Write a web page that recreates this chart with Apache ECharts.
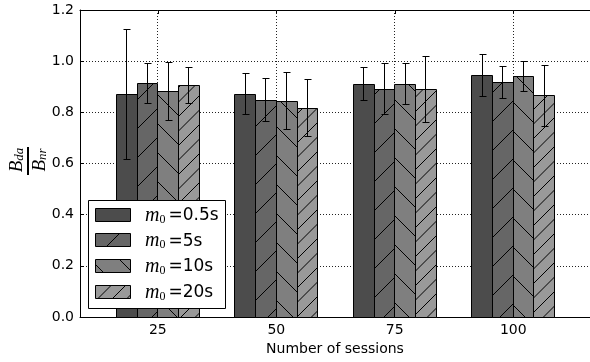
<!DOCTYPE html>
<html><head><meta charset="utf-8">
<script src="https://cdn.jsdelivr.net/npm/echarts@6/dist/echarts.min.js"></script>
<style>html,body{margin:0;padding:0;background:#fff}#c{width:590px;height:362px}</style>
</head><body><div id="c"></div>
<script>
// Number of sessions on the x axis
const sessions = [25, 50, 75, 100];
// Series names (initial memory m0)
const seriesNames = ['0.5s', '5s', '10s', '20s'];
// Mean B_da / B_nr per session count
const ratio05 = [0.869, 0.871, 0.910, 0.943];
const ratio5  = [0.913, 0.847, 0.890, 0.918];
const ratio10 = [0.882, 0.843, 0.910, 0.940];
const ratio20 = [0.906, 0.816, 0.890, 0.864];
// Half-length of the error bars
const err05 = [0.254, 0.080, 0.065, 0.082];
const err5  = [0.078, 0.084, 0.100, 0.062];
const err10 = [0.112, 0.111, 0.081, 0.058];
const err20 = [0.070, 0.112, 0.129, 0.119];
// Axis ticks
const yTicks = [0, 0.2, 0.4, 0.6, 0.8, 1.0, 1.2];
const xTickLabels = ['25', '50', '75', '100'];

const values = [ratio05, ratio5, ratio10, ratio20];
const errors = [err05, err5, err10, err20];

// Styling
const FILLS = ['#4c4c4c', '#666666', '#7f7f7f', '#999999'];
const HATCH = [null, {dir: 1, step: 29}, {dir: -1, step: 29}, {dir: 1, step: 14.5}];
const BAR_W = 4.375;          // bar width in x-axis units
const X_MIN = 8.57, X_MAX = 116.2;
const CAP = 3;
const LEGEND_Z = 100;

const snap = v => Math.round(v - 0.5) + 0.5;

// Hatch segments in screen space, clipped to a rectangle
function hatchSegments(x0, y0, x1, y1, h) {
  const segs = [];
  if (!h) return segs;
  const s = h.step, ph = 5;
  if (h.dir > 0) {            // '/' : x + y = c
    const cMin = x0 + y0, cMax = x1 + y1;
    for (let c = Math.ceil((cMin - ph) / s) * s + ph; c <= cMax; c += s) {
      const xa = Math.max(x0, c - y1), xb = Math.min(x1, c - y0);
      if (xb > xa) segs.push([xa, c - xa, xb, c - xb]);
    }
  } else {                    // '\' : x - y = c
    const cMin = x0 - y1, cMax = x1 - y0;
    for (let c = Math.ceil((cMin - ph) / s) * s + ph; c <= cMax; c += s) {
      const xa = Math.max(x0, c + y0), xb = Math.min(x1, c + y1);
      if (xb > xa) segs.push([xa, xa - c, xb, xb - c]);
    }
  }
  return segs;
}

function hatchElements(x0, y0, x1, y1, h, z) {
  return hatchSegments(x0, y0, x1, y1, h).map(sg => {
    const el = {
      type: 'line', shape: {x1: sg[0], y1: sg[1], x2: sg[2], y2: sg[3]},
      style: {stroke: '#000', lineWidth: 1}
    };
    if (z !== undefined) el.z = z;
    return el;
  });
}

function barRenderer(k) {
  return function (params, api) {
    const xc = api.value(0) + (k - 1.5) * BAR_W;
    const v = api.value(1), e = api.value(2);
    const pTop = api.coord([xc - BAR_W / 2, v]);
    const pBot = api.coord([xc + BAR_W / 2, 0]);
    const x0 = snap(pTop[0]), x1 = snap(pBot[0]);
    const y0 = snap(pTop[1]), y1 = snap(pBot[1]);
    const children = [{
      type: 'rect', shape: {x: x0, y: y0, width: x1 - x0, height: y1 - y0},
      style: {fill: FILLS[k]}
    }];
    children.push(...hatchElements(x0, y0, x1, y1, HATCH[k]));
    children.push({
      type: 'rect', shape: {x: x0, y: y0, width: x1 - x0, height: y1 - y0},
      style: {fill: 'none', stroke: '#000', lineWidth: 1}
    });
    const eTop = api.coord([xc, v + e]), eBot = api.coord([xc, v - e]);
    const cx = snap(eTop[0]), ty = snap(eTop[1]), by = snap(eBot[1]);
    children.push(
      {type: 'line', shape: {x1: cx, y1: ty, x2: cx, y2: by}, style: {stroke: '#000', lineWidth: 1}},
      {type: 'line', shape: {x1: cx - CAP, y1: ty, x2: cx + CAP + 1, y2: ty}, style: {stroke: '#000', lineWidth: 1}},
      {type: 'line', shape: {x1: cx - CAP, y1: by, x2: cx + CAP + 1, y2: by}, style: {stroke: '#000', lineWidth: 1}}
    );
    return {type: 'group', children};
  };
}

const series = values.map((vals, k) => ({
  type: 'custom',
  name: seriesNames[k],
  z: 3,
  renderItem: barRenderer(k),
  encode: {x: 0, y: 1},
  data: sessions.map((s, i) => [s, vals[i], errors[k][i]])
}));

// Vertical dotted grid lines at the x ticks
series.unshift({
  type: 'custom',
  z: 1,
  silent: true,
  renderItem: function (params, api) {
    const a = api.coord([api.value(0), yTicks[yTicks.length - 1]]);
    const b = api.coord([api.value(0), yTicks[0]]);
    const x = snap(a[0]);
    return {type: 'line', shape: {x1: x, y1: a[1], x2: x, y2: b[1]},
      style: {stroke: '#222', lineWidth: 1, lineDash: [1, 2]}};
  },
  encode: {x: 0},
  data: sessions.map(s => [s])
});

// Legend drawn as graphics (hatched patches + math-style labels)
const LEG = {x: 88.5, y: 200.5, w: 137, h: 108, rows: [214.5, 240.2, 265.9, 291.6]};
const legendChildren = [{
  type: 'rect', z: LEGEND_Z, shape: {x: LEG.x, y: LEG.y, width: LEG.w, height: LEG.h},
  style: {fill: '#fff', stroke: '#000', lineWidth: 1}
}];
const mathRich = {
  m: {fontFamily: 'Liberation Serif', fontStyle: 'italic', fontSize: 20, lineHeight: 20, color: '#000'},
  sub: {fontFamily: 'Liberation Serif', fontSize: 12, lineHeight: 12, verticalAlign: 'bottom', color: '#000', padding: [0, 3, 0, 0]},
  t: {fontFamily: 'DejaVu Sans', fontSize: 17, lineHeight: 20, color: '#000'}
};
seriesNames.forEach((name, k) => {
  const cy = LEG.rows[k];
  const px0 = 95.5, px1 = 130.5, py0 = snap(cy - 6.5), py1 = py0 + 13;
  legendChildren.push({type: 'rect', z: LEGEND_Z + 1, shape: {x: px0, y: py0, width: px1 - px0, height: py1 - py0}, style: {fill: FILLS[k]}});
  legendChildren.push(...hatchElements(px0, py0, px1, py1, HATCH[k], LEGEND_Z + 2));
  legendChildren.push({type: 'rect', z: LEGEND_Z + 3, shape: {x: px0, y: py0, width: px1 - px0, height: py1 - py0}, style: {fill: 'none', stroke: '#000', lineWidth: 1}});
  legendChildren.push({
    type: 'text', z: LEGEND_Z + 3, x: 145, y: cy + 1,
    style: {text: '{m|m}{sub|0}{t|=' + name + '}', rich: mathRich, align: 'left', verticalAlign: 'middle'}
  });
});

const fracRich = {
  B: {fontFamily: 'Liberation Serif', fontStyle: 'italic', fontSize: 19, lineHeight: 19, color: '#000'},
  s: {fontFamily: 'Liberation Serif', fontStyle: 'italic', fontSize: 13, lineHeight: 13, verticalAlign: 'bottom', color: '#000'}
};

const option = {
  animation: false,
  backgroundColor: '#fff',
  grid: {left: 80, top: 10, right: -3, bottom: 45},
  xAxis: [{
    type: 'value', min: X_MIN, max: X_MAX, position: 'bottom',
    name: 'Number of sessions', nameLocation: 'middle', nameGap: 24,
    nameTextStyle: {fontFamily: 'DejaVu Sans', fontSize: 14, color: '#000'},
    axisLine: {show: true, onZero: false, lineStyle: {color: '#000', width: 1}},
    axisTick: {show: true, inside: true, length: 4, customValues: sessions, lineStyle: {color: '#000'}},
    axisLabel: {show: true, customValues: sessions, margin: 6,
      formatter: v => xTickLabels[sessions.indexOf(v)],
      fontFamily: 'DejaVu Sans', fontSize: 14, color: '#000'},
    splitLine: {show: false}
  }, {
    type: 'value', min: X_MIN, max: X_MAX, position: 'top',
    axisLine: {show: true, onZero: false, lineStyle: {color: '#000', width: 1}},
    axisTick: {show: true, inside: true, length: 4, customValues: sessions, lineStyle: {color: '#000'}},
    axisLabel: {show: false},
    splitLine: {show: false}
  }],
  yAxis: {
    type: 'value', min: yTicks[0], max: yTicks[yTicks.length - 1], interval: 0.2,
    axisLine: {show: true, lineStyle: {color: '#000', width: 1}},
    axisTick: {show: true, inside: true, length: 4, lineStyle: {color: '#000'}},
    axisLabel: {margin: 6, formatter: v => v.toFixed(1), fontFamily: 'DejaVu Sans', fontSize: 14, color: '#000'},
    splitLine: {show: true, lineStyle: {color: '#222', width: 1, type: [1, 2]}}
  },
  graphic: [
    {type: 'group', children: legendChildren},
    {
      type: 'group', x: 28, y: 161, rotation: Math.PI / 2, children: [
        {type: 'rect', shape: {x: -14, y: -1, width: 28, height: 2}, style: {fill: '#000'}},
        {type: 'text', x: 1, y: -2, style: {text: '{B|B}{s|da}', rich: fracRich, align: 'center', verticalAlign: 'bottom'}},
        {type: 'text', x: 1, y: 2, style: {text: '{B|B}{s|nr}', rich: fracRich, align: 'center', verticalAlign: 'top'}}
      ]
    }
  ],
  series: series
};

const chart = echarts.init(document.getElementById('c'), null, {renderer: 'canvas'});
chart.setOption(option);
</script>
</body></html>
